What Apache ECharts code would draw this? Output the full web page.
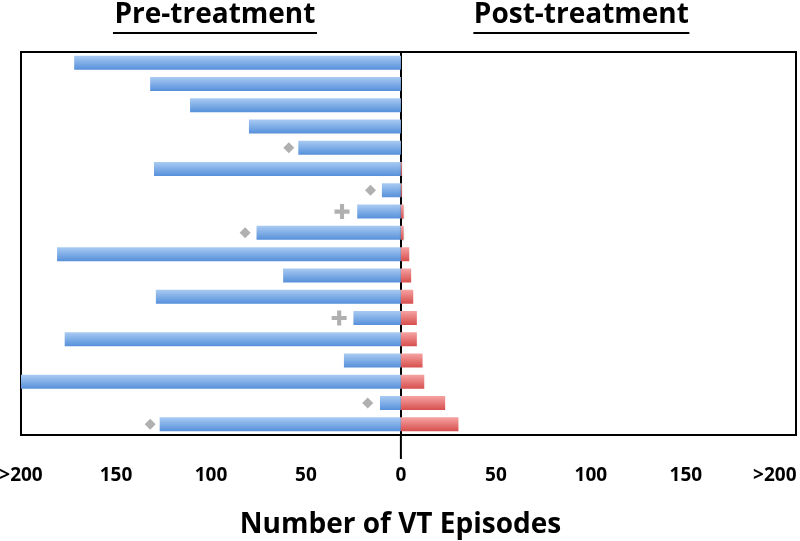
<!DOCTYPE html>
<html>
<head>
<meta charset="utf-8">
<script src="https://cdn.jsdelivr.net/npm/echarts@6/dist/echarts.min.js"></script>
<style>
  html, body { margin: 0; padding: 0; background: #fff; }
  #chart { width: 800px; height: 541px; }
</style>
</head>
<body>
<div id="chart"></div>
<script>
// patients, top to bottom
const patients = ['1', '2', '3', '4', '5', '6', '7', '8', '9', '10', '11', '12', '13', '14', '15', '16', '17', '18']
// VT episodes before treatment (drawn to the left)
const preEpisodes = [172, 132, 111, 80, 54, 130, 10, 23, 76, 181, 62, 129, 25, 177, 30, 200, 11, 127]
// VT episodes after treatment (drawn to the right)
const postEpisodes = [0, 0, 0, 0, 0, 0.5, 0.5, 1.4, 1.4, 4.4, 5.4, 6.5, 8.4, 8.4, 11.4, 12.3, 23.3, 30.3]
// grey markers beside some pre-treatment bars
const diamondPatients = ['5', '7', '9', '17', '18']
const diamondValues = [59, 16, 82, 17.5, 132]
const plusPatients = ['8', '13']
const plusValues = [31, 32.5]
// axis ticks
const tickValues = [-200, -150, -100, -50, 0, 50, 100, 150, 200]
const tickLabels = ['>200', '150', '100', '50', '0', '50', '100', '150', '>200']

const FONT = "'Liberation Sans Narrow', 'Open Sans', sans-serif"

const chart = echarts.init(document.getElementById('chart'))

const blueFill = new echarts.graphic.LinearGradient(0, 0, 0, 1, [
  { offset: 0, color: '#a9cbf3' },
  { offset: 1, color: '#5690da' }
])
const redFill = new echarts.graphic.LinearGradient(0, 0, 0, 1, [
  { offset: 0, color: '#f6a3a3' },
  { offset: 1, color: '#d64f4d' }
])

const options = {
  animation: false,
  grid: {
    left: 21, right: 4, top: 52, bottom: 106,
    containLabel: false,
    outerBoundsMode: 'none',
    show: true,
    borderColor: '#000',
    borderWidth: 2,
    backgroundColor: '#fff'
  },
  xAxis: {
    type: 'value',
    min: -200,
    max: 208,
    interval: 50,
    splitLine: { show: false },
    axisLine: { show: false },
    axisTick: { show: false },
    axisLabel: {
      margin: 31,
      color: '#000',
      fontFamily: FONT,
      fontWeight: 'bold',
      fontSize: 19,
      showMaxLabel: false,
      formatter: v => {
        const i = tickValues.indexOf(v)
        if (i < 0) return ''
        // keep the last label inside the canvas
        return i === tickValues.length - 1 ? '{edge|' + tickLabels[i] + '}' : tickLabels[i]
      },
      rich: {
        edge: {
          color: '#000',
          fontFamily: FONT,
          fontWeight: 'bold',
          fontSize: 19,
          padding: [0, 12, 0, 0]
        }
      }
    },
    name: 'Number of VT Episodes',
    nameLocation: 'middle',
    nameGap: 76,
    nameTextStyle: {
      color: '#000',
      fontFamily: FONT,
      fontWeight: 'bold',
      fontSize: 28,
      padding: [0, 16, 0, 0]
    }
  },
  yAxis: {
    type: 'category',
    data: patients,
    inverse: true,
    axisLabel: { show: false },
    axisTick: { show: false },
    axisLine: { show: true, onZero: true, lineStyle: { color: '#000', width: 2 } }
  },
  series: [
    {
      name: 'Pre-treatment',
      type: 'bar',
      barWidth: 14,
      barGap: '-100%',
      data: preEpisodes.map(v => -v),
      itemStyle: {
        color: blueFill,
        shadowColor: 'rgba(0,0,0,0.25)',
        shadowBlur: 2,
        shadowOffsetY: 1
      },
      z: 1
    },
    {
      name: 'Post-treatment',
      type: 'bar',
      barWidth: 14,
      data: postEpisodes,
      itemStyle: {
        color: redFill,
        shadowColor: 'rgba(0,0,0,0.25)',
        shadowBlur: 2,
        shadowOffsetY: 1
      },
      z: 1
    },
    {
      type: 'scatter',
      symbol: 'diamond',
      symbolSize: 11,
      itemStyle: { color: '#9c9c9c' },
      data: diamondPatients.map((p, i) => [-diamondValues[i], p]),
      z: 3
    },
    {
      type: 'scatter',
      symbol: 'path://M4,0H7V4H11V7H7V11H4V7H0V4H4Z',
      symbolSize: 15,
      itemStyle: { color: '#9c9c9c' },
      data: plusPatients.map((p, i) => [-plusValues[i], p]),
      z: 3
    }
  ]
}

chart.setOption(options)

// headings with underline and the zero line running past the frame
const leftCentre = chart.convertToPixel({ xAxisIndex: 0 }, -100)
const rightCentre = chart.convertToPixel({ xAxisIndex: 0 }, 95)
const zeroX = chart.convertToPixel({ xAxisIndex: 0 }, 0)
const headStyle = { fill: '#000', font: "bold 28px " + FONT, align: 'center', verticalAlign: 'middle' }

chart.setOption({
  graphic: [
    { type: 'text', x: leftCentre + 4, y: 15, style: Object.assign({ text: 'Pre-treatment' }, headStyle) },
    { type: 'line', shape: { x1: leftCentre - 98, y1: 33, x2: leftCentre + 106, y2: 33 }, style: { stroke: '#000', lineWidth: 2 } },
    { type: 'text', x: rightCentre, y: 15, style: Object.assign({ text: 'Post-treatment' }, headStyle) },
    { type: 'line', shape: { x1: rightCentre - 108, y1: 33, x2: rightCentre + 108, y2: 33 }, style: { stroke: '#000', lineWidth: 2 } },
    { type: 'line', shape: { x1: zeroX, y1: 435, x2: zeroX, y2: 459 }, style: { stroke: '#000', lineWidth: 2 } }
  ]
})
</script>
</body>
</html>
